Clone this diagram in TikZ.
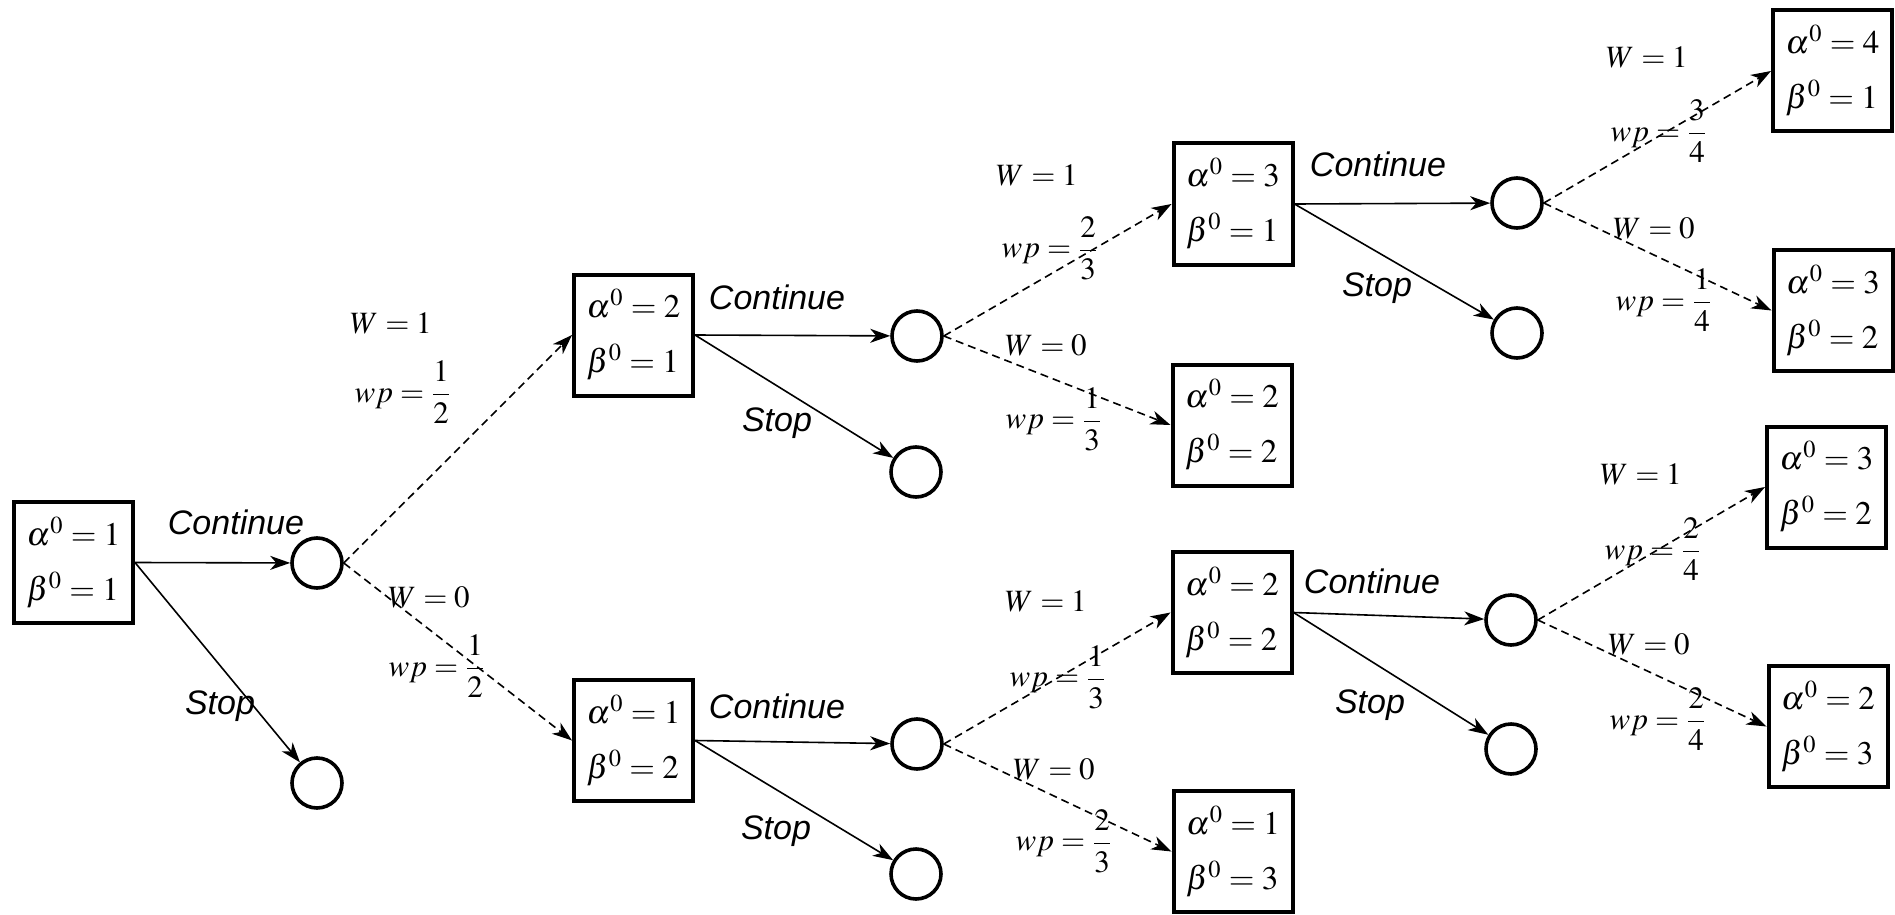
\documentclass[tikz,border=0pt]{standalone}
\usepackage{amsmath}
\usepackage{mathptmx}
\usepackage[no-math]{fontspec}
\setmainfont{Liberation Serif}
\setsansfont{Liberation Sans}
\usetikzlibrary{arrows.meta}
\begin{document}
\begin{tikzpicture}[x=0.5pt,y=-0.5pt,
  state/.style={draw, line width=2pt, minimum width=59.5pt, minimum height=60.5pt, inner sep=0pt, align=left, font=\fontsize{16.5}{27.5}\selectfont},
  chance/.style={draw, circle, line width=1.8pt, minimum size=25pt, inner sep=0pt},
  act/.style={font=\sffamily\itshape\fontsize{17}{20}\selectfont},
  prob/.style={font=\fontsize{15.5}{18}\selectfont, inner sep=0pt},
  arr/.style={line width=0.8pt, -{Stealth[length=10pt,width=7pt,inset=3pt]}},
  darr/.style={arr, dash pattern=on 4pt off 2.5pt}]
\useasboundingbox (0,0) rectangle (1895,915);
% states and chance nodes
\node[state] (s0) at (73.5,562.5) {$\alpha^0=1$\\$\beta^0=1$};
\node[chance] (c0) at (317,563) {};
\node[chance] (t0) at (317,783) {};
\node[state] (s1) at (633.5,335) {$\alpha^0=2$\\$\beta^0=1$};
\node[state] (s2) at (633.5,740.5) {$\alpha^0=1$\\$\beta^0=2$};
\node[chance] (c1) at (917,336) {};
\node[chance] (t1) at (916,472) {};
\node[chance] (c2) at (917,744) {};
\node[chance] (t2) at (916,874) {};
\node[state] (s3) at (1233,204) {$\alpha^0=3$\\$\beta^0=1$};
\node[state] (s4) at (1232,425) {$\alpha^0=2$\\$\beta^0=2$};
\node[state] (s5) at (1232,612.5) {$\alpha^0=2$\\$\beta^0=2$};
\node[state] (s6) at (1233,851.5) {$\alpha^0=1$\\$\beta^0=3$};
\node[chance] (c3) at (1517,203) {};
\node[chance] (t3) at (1517,333) {};
\node[chance] (c5) at (1511,620) {};
\node[chance] (t5) at (1511,749) {};
\node[state] (s7) at (1832.5,71) {$\alpha^0=4$\\$\beta^0=1$};
\node[state] (s8) at (1833,310.5) {$\alpha^0=3$\\$\beta^0=2$};
\node[state] (s9) at (1826.5,487) {$\alpha^0=3$\\$\beta^0=2$};
\node[state] (s10) at (1828,726.5) {$\alpha^0=2$\\$\beta^0=3$};
% connectors
\draw[arr] (s0.east) -- (c0);
\draw[arr] (s0.east) -- (t0);
\draw[darr] (c0.east) -- (s1.west);
\draw[darr] (c0.east) -- (s2.west);
\draw[arr] (s1.east) -- (c1);
\draw[arr] (s1.east) -- (t1);
\draw[arr] (s2.east) -- (c2);
\draw[arr] (s2.east) -- (t2);
\draw[darr] (c1.east) -- (s3.west);
\draw[darr] (c1.east) -- (s4.west);
\draw[darr] (c2.east) -- (s5.west);
\draw[darr] (c2.east) -- (s6.west);
\draw[arr] (s3.east) -- (c3);
\draw[arr] (s3.east) -- (t3);
\draw[arr] (s5.east) -- (c5);
\draw[arr] (s5.east) -- (t5);
\draw[darr] (c3.east) -- (s7.west);
\draw[darr] (c3.east) -- (s8.west);
\draw[darr] (c5.east) -- (s9.west);
\draw[darr] (c5.east) -- (s10.west);
% action labels
\node[act] (a0c) at (236,522) {Continue};
\node[act] (a0s) at (220,706) {Stop};
\node[act] (a1c) at (777,297) {Continue};
\node[act] (a1s) at (777,423) {Stop};
\node[act] (a2c) at (777,706) {Continue};
\node[act] (a2s) at (776,831) {Stop};
\node[act] (a3c) at (1378,164) {Continue};
\node[act] (a3s) at (1377,288) {Stop};
\node[act] (a5c) at (1372,581) {Continue};
\node[act] (a5s) at (1370,705) {Stop};
% probability labels
\node[prob] (p1a) at (391,323) {$W=1$};
\node[prob] (p1b) at (403,392) {$wp=\dfrac{1}{2}$};
\node[prob] (p1c) at (429,597) {$W=0$};
\node[prob] (p1d) at (437,666) {$wp=\dfrac{1}{2}$};
\node[prob] (p2a) at (1037,175) {$W=1$};
\node[prob] (p2b) at (1050,248) {$wp=\dfrac{2}{3}$};
\node[prob] (p2c) at (1046,345) {$W=0$};
\node[prob] (p2d) at (1054,419) {$wp=\dfrac{1}{3}$};
\node[prob] (p3a) at (1046,601) {$W=1$};
\node[prob] (p3b) at (1058,677) {$wp=\dfrac{1}{3}$};
\node[prob] (p3c) at (1054,769) {$W=0$};
\node[prob] (p3d) at (1064,841) {$wp=\dfrac{2}{3}$};
\node[prob] (p4a) at (1647,57) {$W=1$};
\node[prob] (p4b) at (1659,131) {$wp=\dfrac{3}{4}$};
\node[prob] (p4c) at (1654,228) {$W=0$};
\node[prob] (p4d) at (1664,300) {$wp=\dfrac{1}{4}$};
\node[prob] (p5a) at (1641,474) {$W=1$};
\node[prob] (p5b) at (1653,549) {$wp=\dfrac{2}{4}$};
\node[prob] (p5c) at (1649,644) {$W=0$};
\node[prob] (p5d) at (1658,719) {$wp=\dfrac{2}{4}$};
\end{tikzpicture}
\end{document}
